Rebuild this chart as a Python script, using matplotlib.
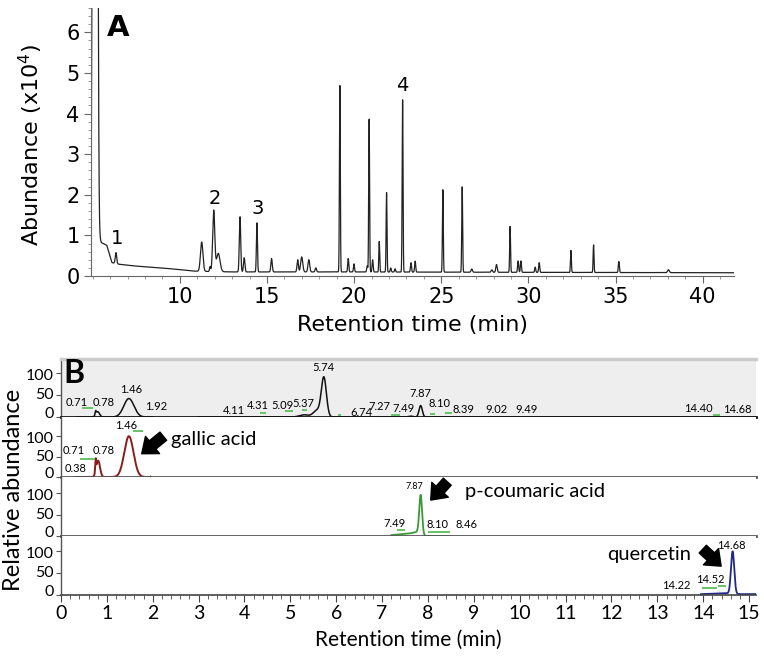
import numpy as np
import matplotlib
matplotlib.use('Agg')
import matplotlib.pyplot as plt
from matplotlib import font_manager
from matplotlib.ticker import MultipleLocator

# ---------------- Panel A data (abundance x10^4 vs retention time, min) ----------------
a_peak_time = [5.13, 6.33, 11.25, 11.73, 11.94, 12.2, 13.45, 13.69, 14.42, 15.26,
               16.76, 16.99, 17.4, 17.8, 19.18, 19.66, 19.99, 20.75, 20.86, 21.06,
               21.44, 21.86, 22.1, 22.35, 22.78, 23.26, 23.5, 25.09, 26.2, 26.75,
               27.9, 28.17, 28.95, 29.41, 29.57, 30.39, 30.62, 32.44, 33.74, 35.19, 38.04]
a_peak_height = [100.0, 0.27, 0.72, 0.12, 1.5, 0.45, 1.36, 0.35, 1.21, 0.33,
                 0.3, 0.37, 0.3, 0.1, 4.6, 0.33, 0.2, 0.15, 3.77, 0.3,
                 0.75, 1.96, 0.1, 0.08, 4.25, 0.23, 0.27, 2.03, 2.1, 0.08,
                 0.06, 0.19, 1.13, 0.28, 0.28, 0.13, 0.24, 0.54, 0.68, 0.27, 0.07]
a_peak_width = [0.08, 0.04, 0.07, 0.03, 0.06, 0.1, 0.04, 0.04, 0.03, 0.04,
                0.04, 0.06, 0.05, 0.04, 0.025, 0.03, 0.03, 0.03, 0.025, 0.03,
                0.025, 0.025, 0.03, 0.03, 0.025, 0.03, 0.03, 0.025, 0.025, 0.04,
                0.04, 0.04, 0.025, 0.03, 0.03, 0.03, 0.03, 0.025, 0.025, 0.03, 0.05]
a_base_time = [4.88, 5.3, 5.5, 5.8, 5.95, 6.1, 6.5, 7.3, 9.2, 10.8, 13.0, 20.0, 30.0, 41.8]
a_base_value = [0.0, 0.95, 0.82, 0.76, 0.55, 0.33, 0.29, 0.25, 0.19, 0.12, 0.1, 0.1, 0.09, 0.08]
a_labels = ['1', '2', '3', '4']
a_label_time = [6.37, 12.01, 14.44, 22.76]
a_label_value = [0.93, 1.9, 1.67, 4.7]

# ---------------- Panel B data (relative abundance vs retention time, min) ----------------
tic_peak_time = [0.755, 0.80, 1.48, 5.30, 5.58, 5.73, 7.62, 7.84]
tic_peak_height = [8, 12, 42, 5, 15, 89, 2, 26]
tic_peak_width = [0.012, 0.04, 0.11, 0.1, 0.08, 0.055, 0.05, 0.035]
tic_ranges = [(0.35, 2.0), (3.0, 15.15)]

gal_peak_time = [0.755, 0.81, 1.48]
gal_peak_height = [30, 40, 100]
gal_peak_width = [0.01, 0.04, 0.1]
gal_range = (0.3, 1.97)

cou_peak_time = [7.84]
cou_peak_height = [90]
cou_peak_width = [0.03]
cou_base_time = [7.2, 7.6, 7.78, 7.95, 8.5]
cou_base_value = [2, 6, 10, 0, 0]

que_peak_time = [14.64]
que_peak_height = [97]
que_peak_width = [0.035]
que_base_time = [13.95, 14.5, 14.8, 15.15]
que_base_value = [2, 4, 2, 2]

# peak annotation texts per panel: (label, time, value)
p1_labels = ['0.71', '0.78', '1.46', '1.92', '4.11', '4.31', '5.09', '5.37', '5.74', '6.74',
             '7.27', '7.49', '7.87', '8.10', '8.39', '9.02', '9.49', '14.40', '14.68']
p1_label_t = [0.34, 0.94, 1.52, 2.08, 3.76, 4.29, 4.83, 5.29, 5.73, 6.54,
              6.94, 7.46, 7.84, 8.26, 8.77, 9.5, 10.15, 13.9, 14.74]
p1_label_v = [34, 34, 62, 23, 15, 27, 27, 30, 112, 11,
              25, 20, 53, 30, 17, 17, 17, 20, 17]
p2_labels = ['1.46', '0.71', '0.78', '0.38']
p2_label_t = [1.41, 0.28, 0.94, 0.32]
p2_label_v = [127, 66, 66, 21]
p3_labels = ['7.87', '7.49', '8.10', '8.46']
p3_label_t = [7.70, 7.26, 8.21, 8.84]
p3_label_v = [115, 30, 28, 26]
p4_labels = ['14.68', '14.52', '14.22']
p4_label_t = [14.62, 14.15, 13.41]
p4_label_v = [114, 36, 21]

# integration marks (green): (t0, t1, value)
p1_marks = [(0.45, 0.7, 20), (4.34, 4.47, 9), (4.88, 5.06, 13), (5.25, 5.36, 15), (6.04, 6.1, 4),
            (7.2, 7.4, 4), (8.05, 8.15, 6), (8.37, 8.52, 8), (14.22, 14.37, 4)]
p2_marks = [(0.41, 0.74, 45), (1.58, 1.79, 113), (1.93, 1.96, 3)]
p3_marks = [(7.32, 7.5, 14), (8.01, 8.48, 10)]
p4_marks = [(13.98, 14.3, 15), (14.32, 14.5, 20)]

compounds = ['gallic acid', 'p-coumaric acid', 'quercetin']
b_xticks = list(range(0, 16))
b_yticks = [0, 50, 100]

# ---------------- fonts ----------------
names = {f.name for f in font_manager.fontManager.ttflist}
if 'Liberation Sans Narrow' in names:
    BF = 'Liberation Sans Narrow'
    SZ = dict(small=9.5, tiny=7, comp=17, xt=15, yt=12.5, xl=17, B=23)
else:
    BF = 'Lato'
    SZ = dict(small=8, tiny=6.5, comp=14.5, xt=14, yt=11.5, xl=15, B=23)

W, H = 764, 668
fig = plt.figure(figsize=(W / 100, H / 100), dpi=100)


def fax(l, t, r, b):
    return fig.add_axes([l / W, 1 - b / H, (r - l) / W, (b - t) / H])


def gsum(t, times, heights, widths):
    y = np.zeros_like(t)
    for c, h, w in zip(times, heights, widths):
        y += h * np.exp(-0.5 * ((t - c) / w) ** 2)
    return y


# ================= Panel A =================
axA = fax(90.7, 8, 734, 276)
tA = np.linspace(4.88, 41.8, 12000)
yA = np.interp(tA, a_base_time, a_base_value) + gsum(tA, a_peak_time, a_peak_height, a_peak_width)
axA.plot(tA, yA, color='#222222', lw=0.9)
axA.set_xlim(4.88, 41.8)
axA.set_ylim(0, 6.6)
for s in ['top', 'right']:
    axA.spines[s].set_visible(False)
for s in ['left', 'bottom']:
    axA.spines[s].set_color('#666666')
axA.set_xticks([10, 15, 20, 25, 30, 35, 40])
axA.xaxis.set_minor_locator(MultipleLocator(1))
axA.set_yticks(range(0, 7))
axA.yaxis.set_minor_locator(MultipleLocator(0.2))
axA.tick_params(which='major', length=5, color='#666666', labelsize=15, pad=3)
axA.tick_params(which='minor', length=2.5, color='#888888')
axA.set_xlabel('Retention time (min)', fontsize=16, labelpad=6)
axA.set_ylabel('Abundance (x10$^4$)', fontsize=16)
axA.yaxis.set_label_coords(-0.071, 0.49)
axA.text(5.82, 6.1, 'A', fontsize=21, fontweight='bold', ha='left', va='center')
for lab, t, v in zip(a_labels, a_label_time, a_label_value):
    axA.text(t, v, lab, fontsize=14, ha='center', va='center')

# ================= Panel B =================
panel_px = [(359, 417), (417, 477), (477, 536), (536, 595)]
panel_top = [132, 147, 138, 135]
axs = []
for i, ((top, bot), yt) in enumerate(zip(panel_px, panel_top)):
    ax = fax(61, top, 756, bot)
    ax.set_xlim(0, 15.15)
    ax.set_ylim(0, yt)
    ax.set_yticks(b_yticks)
    ax.set_yticklabels([])
    ax.spines['right'].set_visible(False)
    ax.spines['top'].set_visible(False)
    ax.spines['left'].set_color('#555555')
    ax.spines['left'].set_linewidth(1.0)
    ax.tick_params(axis='y', length=3.5, color='#555555')
    # y tick labels drawn as texts, nudged slightly so stacked panels do not collide
    for v in b_yticks:
        dy = 2 if v == 0 else (-2 if v == 100 else 0)
        ax.annotate(str(v), xy=(0, v), xycoords=('axes fraction', 'data'),
                    xytext=(-5, dy), textcoords='offset points', ha='right', va='center',
                    fontsize=SZ['yt'], family=BF, annotation_clip=False)
    if i < 3:
        ax.set_xticks([])
        ax.spines['bottom'].set_linewidth(2.0)
        ax.spines['bottom'].set_color('#111111' if i == 0 else '#555555')
    axs.append(ax)

ax1, ax2, ax3, ax4 = axs
ax1.set_facecolor('#eeeeee')
ax1.spines['top'].set_visible(True)
ax1.spines['top'].set_color('#cccccc')
ax1.spines['top'].set_linewidth(2.5)

# panel 4 x axis
ax4.set_xticks(b_xticks)
ax4.xaxis.set_minor_locator(MultipleLocator(0.2))
ax4.spines['bottom'].set_color('#444444')
ax4.spines['bottom'].set_linewidth(1.2)
ax4.tick_params(axis='x', which='major', length=5, color='#444444', labelsize=SZ['xt'], pad=2)
ax4.tick_params(axis='x', which='minor', length=3, color='#444444')
for lab in ax4.get_xticklabels():
    lab.set_fontfamily(BF)
ax4.set_xlabel('Retention time (min)', fontsize=SZ['xl'], family=BF, labelpad=6)
fig.text(14 / W, 1 - 490 / H, 'Relative abundance', rotation=90, fontsize=17,
         family='Lato', ha='center', va='center')

# traces
for (t0, t1) in tic_ranges:
    t = np.linspace(t0, t1, 3000)
    ax1.plot(t, gsum(t, tic_peak_time, tic_peak_height, tic_peak_width), color='#111111', lw=1.1)

t = np.linspace(*gal_range, 2000)
ax2.plot(t, gsum(t, gal_peak_time, gal_peak_height, gal_peak_width), color='#8b1c1c', lw=1.4)

t = np.linspace(cou_base_time[0], cou_base_time[-1], 2000)
ax3.plot(t, np.interp(t, cou_base_time, cou_base_value) + gsum(t, cou_peak_time, cou_peak_height, cou_peak_width),
         color='#3a9a3a', lw=1.3)

t = np.linspace(que_base_time[0], que_base_time[-1], 2000)
ax4.plot(t, np.interp(t, que_base_time, que_base_value) + gsum(t, que_peak_time, que_peak_height, que_peak_width),
         color='#1f2a8c', lw=1.3)

# integration marks
for ax, marks in zip(axs, [p1_marks, p2_marks, p3_marks, p4_marks]):
    for t0, t1, v in marks:
        ax.plot([t0, t1], [v, v], color='#66c466', lw=1.4, solid_capstyle='butt')

# labels
for ax, labs, ts, vs in zip(axs, [p1_labels, p2_labels, p3_labels, p4_labels],
                            [p1_label_t, p2_label_t, p3_label_t, p4_label_t],
                            [p1_label_v, p2_label_v, p3_label_v, p4_label_v]):
    for lab, tt, vv in zip(labs, ts, vs):
        fs = SZ['tiny'] if (ax is ax3 and lab == '7.87') else SZ['small']
        ax.text(tt, vv, lab, fontsize=fs, family=BF, ha='center', va='center', clip_on=False)

ax1.text(0.28, 98, 'B', fontsize=SZ['B'], fontweight='bold', family=BF, ha='center', va='center')

# compound names and arrows
comp_pos = [(ax2, 2.39, 92), (ax3, 8.81, 104), (ax4, 11.9, 92)]
arrows = [(ax2, (2.23, 100), (1.76, 57)), (ax3, (8.42, 127), (8.06, 84)), (ax4, (13.99, 105), (14.39, 66))]
for name, (ax, tt, vv) in zip(compounds, comp_pos):
    ax.text(tt, vv, name, fontsize=SZ['comp'], family=BF, ha='left', va='center')
for ax, tail, tip in arrows:
    ax.annotate('', xy=tip, xytext=tail, annotation_clip=False,
                arrowprops=dict(arrowstyle='simple,head_length=0.5,head_width=0.8,tail_width=0.38',
                                color='black', mutation_scale=20, shrinkA=0, shrinkB=0))

fig.savefig('out.png', dpi=100)
